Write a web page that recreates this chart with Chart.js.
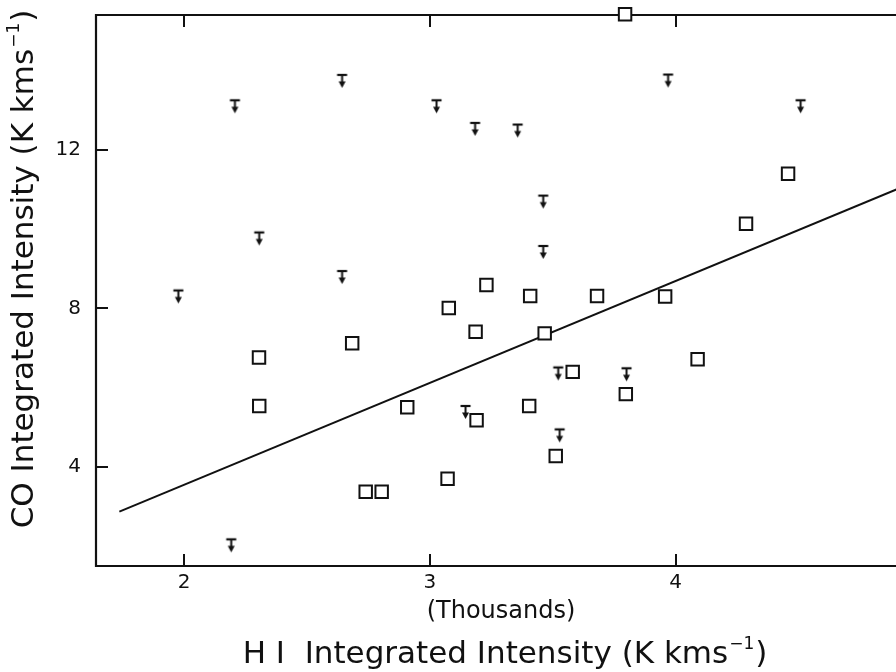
<!DOCTYPE html>
<html>
<head>
<meta charset="utf-8">
<script src="https://cdn.jsdelivr.net/npm/chart.js@4.4.1/dist/chart.umd.min.js"></script>
<style>
  html, body { margin: 0; padding: 0; background: #fff; }
  #wrap { position: relative; width: 896px; height: 672px; }
</style>
</head>
<body>
<div id="wrap"><canvas id="chart"></canvas></div>
<script>
/* ── data (HI in thousands of K km/s, CO in K km/s) ── */
const detHI = [3.794, 4.457, 4.286, 3.957, 3.680, 3.408, 3.230, 3.077, 3.186, 3.467, 2.684, 2.305,
               4.089, 3.581, 3.797, 2.306, 2.908, 3.404, 3.190, 3.512, 3.072, 2.739, 2.804];
const detCO = [15.41, 11.39, 10.13, 8.30, 8.31, 8.31, 8.59, 8.01, 7.41, 7.37, 7.12, 6.76,
               6.72, 6.40, 5.84, 5.54, 5.51, 5.54, 5.18, 4.28, 3.71, 3.38, 3.38];

const limHI = [2.643, 2.207, 3.027, 3.184, 3.969, 4.508, 3.357, 3.461, 3.461, 2.306, 2.643,
               1.977, 2.192, 3.145, 3.522, 3.800, 3.528];
const limCO = [13.73, 13.09, 13.09, 12.52, 13.74, 13.09, 12.48, 10.69, 9.42, 9.76, 8.79,
               8.30, 2.03, 5.39, 6.36, 6.34, 4.80];

const fitHI = [1.737, 5.0];
const fitCO = [2.88, 11.26];

const xTicks = [2, 3, 4];
const yTicks = [4, 8, 12];

const FONT = "'DejaVu Sans', 'Noto Sans', sans-serif";
const INK  = '#111';

/* glyph for the upper limits: bar on top, arrow pointing down */
function makeLimitGlyph() {
  const c = document.createElement('canvas');
  c.width = 13; c.height = 16;
  const g = c.getContext('2d');
  g.strokeStyle = INK; g.fillStyle = INK;
  g.lineWidth = 2.2;
  g.beginPath(); g.moveTo(1.5, 2); g.lineTo(11.5, 2); g.stroke();
  g.lineWidth = 2;
  g.beginPath(); g.moveTo(6.5, 2); g.lineTo(6.5, 10); g.stroke();
  g.beginPath(); g.moveTo(3, 8.5); g.lineTo(10, 8.5); g.lineTo(6.5, 15); g.closePath(); g.fill();
  return c;
}

/* box frame with inward ticks (no right side, it runs off the page) */
const framePlugin = {
  id: 'frame',
  beforeDatasetsDraw(chart) {
    const { ctx, chartArea: a, scales: { x, y } } = chart;
    ctx.save();
    ctx.strokeStyle = INK;
    ctx.lineWidth = 2.2;
    ctx.beginPath();
    ctx.moveTo(a.right + 2, a.top);
    ctx.lineTo(a.left, a.top);
    ctx.lineTo(a.left, a.bottom);
    ctx.lineTo(a.right + 2, a.bottom);
    ctx.stroke();

    ctx.lineWidth = 2;
    ctx.beginPath();
    xTicks.forEach(v => {
      const px = Math.round(x.getPixelForValue(v));
      ctx.moveTo(px, a.bottom); ctx.lineTo(px, a.bottom - 12);
      ctx.moveTo(px, a.top);    ctx.lineTo(px, a.top + 12);
    });
    yTicks.forEach(v => {
      const py = Math.round(y.getPixelForValue(v));
      ctx.moveTo(a.left, py); ctx.lineTo(a.left + 12, py);
    });
    ctx.stroke();
    ctx.restore();
  },
  afterDraw(chart) {
    const { ctx } = chart;
    ctx.save();
    ctx.fillStyle = INK;
    ctx.textBaseline = 'middle';

    ctx.textAlign = 'center';
    ctx.font = `24px ${FONT}`;
    ctx.fillText('(Thousands)', 501, 612);

    drawTitle(ctx, 'H I  Integrated Intensity (K kms', 504, 655);
    ctx.translate(25, 270);
    ctx.rotate(-Math.PI / 2);
    drawTitle(ctx, 'CO Integrated Intensity (K kms', 0, 0);
    ctx.restore();
  }
};

/* title with the "-1" exponent set as a raised small run */
function drawTitle(ctx, main, cx, cy) {
  const big = `31px ${FONT}`, small = `17px ${FONT}`;
  ctx.font = big;   const w1 = ctx.measureText(main).width;
  ctx.font = small; const w2 = ctx.measureText('\u22121').width;
  ctx.font = big;   const w3 = ctx.measureText(')').width;
  let x0 = cx - (w1 + w2 + w3) / 2;
  ctx.textAlign = 'left';
  ctx.font = big;   ctx.fillText(main, x0, cy);
  ctx.font = small; ctx.fillText('\u22121', x0 + w1 + 1, cy - 10);
  ctx.font = big;   ctx.fillText(')', x0 + w1 + w2 + 2, cy);
}

const chart = new Chart(document.getElementById('chart'), {
  type: 'scatter',
  data: {
    datasets: [
      {
        label: 'detections',
        data: detHI.map((v, i) => ({ x: v, y: detCO[i] })),
        pointStyle: 'rect',
        pointRadius: 8.8,
        pointBorderWidth: 2,
        pointBackgroundColor: '#fff',
        pointBorderColor: INK,
        clip: false,
        order: 1
      },
      {
        label: 'upper limits',
        data: limHI.map((v, i) => ({ x: v, y: limCO[i] })),
        pointStyle: makeLimitGlyph(),
        pointRadius: 6,
        clip: false,
        order: 2
      },
      {
        label: 'fit',
        type: 'line',
        data: fitHI.map((v, i) => ({ x: v, y: fitCO[i] })),
        borderColor: INK,
        borderWidth: 2,
        pointRadius: 0,
        fill: false,
        tension: 0,
        order: 3
      }
    ]
  },
  options: {
    responsive: true,
    maintainAspectRatio: false,
    animation: false,
    events: [],
    layout: { autoPadding: false, padding: { top: 15, left: 0, right: 0, bottom: 0 } },
    plugins: { legend: { display: false }, tooltip: { enabled: false } },
    scales: {
      x: {
        type: 'linear',
        min: 1.642, max: 4.896,
        grid: { display: false, drawTicks: false },
        border: { display: false },
        afterBuildTicks: s => { s.ticks = xTicks.map(v => ({ value: v })); },
        afterFit: s => { s.height = 106; s.paddingLeft = 0; s.paddingRight = 0; },
        ticks: { color: INK, font: { family: FONT, size: 20 }, padding: 5, maxRotation: 0 }
      },
      y: {
        type: 'linear',
        min: 1.51, max: 15.39,
        grid: { display: false, drawTicks: false },
        border: { display: false },
        afterBuildTicks: s => { s.ticks = yTicks.map(v => ({ value: v })); },
        afterFit: s => { s.width = 96; s.paddingTop = 0; s.paddingBottom = 0; },
        ticks: { color: INK, font: { family: FONT, size: 20 }, padding: 15 }
      }
    }
  },
  plugins: [framePlugin]
});
</script>
</body>
</html>
